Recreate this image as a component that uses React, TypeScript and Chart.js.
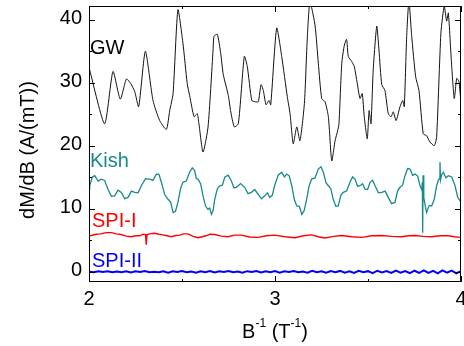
import { useEffect, useRef } from "react";
import { Chart, registerables } from "chart.js";

Chart.register(...registerables);

// ---- axis ticks ----
const xMajor = [2, 3, 4];
const xMinor = [2.5, 3.5];
const yMajor = [0, 10, 20, 30, 40];
const yMinor = [5, 15, 25, 35];
const xTitleMain = ["B", " (T", ")"];
const xTitleSup = ["-1", "-1"];
const yTitle = "dM/dB (A/(mT))";

// ---- series labels ----
const seriesNames = ["GW", "Kish", "SPI-I", "SPI-II"];

// ---- GW ----
const gwB = [2.0, 2.004, 2.084, 2.129, 2.168, 2.201, 2.224, 2.246, 2.267, 2.303, 2.344, 2.38, 2.416, 2.434, 2.452, 2.478, 2.505, 2.528, 2.541, 2.565, 2.582, 2.591, 2.613, 2.64, 2.667, 2.672, 2.69, 2.708, 2.722, 2.749, 2.761, 2.781, 2.803, 2.835, 2.851, 2.875, 2.892, 2.91, 2.925, 2.937, 2.952, 2.968, 2.977, 3.009, 3.036, 3.066, 3.081, 3.098, 3.117, 3.134, 3.158, 3.174, 3.188, 3.215, 3.233, 3.251, 3.269, 3.287, 3.305, 3.323, 3.337, 3.344, 3.359, 3.373, 3.385, 3.394, 3.412, 3.426, 3.439, 3.457, 3.469, 3.48, 3.496, 3.506, 3.516, 3.528, 3.547, 3.559, 3.574, 3.591, 3.609, 3.624, 3.636, 3.651, 3.672, 3.687, 3.695, 3.708, 3.72, 3.735, 3.756, 3.774, 3.797, 3.815, 3.833, 3.856, 3.869, 3.892, 3.91, 3.923, 3.932, 3.95, 3.964, 3.977, 3.989, 4.0];
const gwV = [32.6, 32.0, 23.5, 31.8, 27.4, 30.6, 29.9, 28.6, 26.2, 35.0, 27.2, 24.0, 22.6, 25.6, 28.3, 41.6, 36.3, 29.9, 28.0, 24.6, 25.1, 23.5, 19.0, 23.0, 35.2, 37.4, 37.7, 34.7, 31.3, 28.0, 25.6, 23.0, 23.5, 34.2, 32.6, 27.2, 27.0, 27.0, 29.7, 28.8, 26.5, 27.2, 26.5, 38.7, 34.2, 27.8, 25.1, 20.3, 23.0, 20.8, 26.7, 37.4, 42.8, 39.2, 33.1, 27.5, 27.0, 24.6, 17.6, 20.8, 22.4, 23.5, 33.1, 36.0, 36.9, 34.2, 33.4, 32.6, 30.5, 27.5, 28.3, 24.6, 21.1, 25.6, 23.5, 32.0, 39.0, 35.2, 29.7, 28.8, 25.1, 24.6, 25.4, 24.0, 26.2, 27.2, 26.2, 37.4, 43.0, 37.4, 31.0, 28.8, 21.9, 21.6, 20.6, 20.0, 21.4, 37.9, 42.2, 39.8, 41.1, 32.6, 27.5, 30.7, 30.2, 26.7];

// ---- Kish ----
const kishB = [2.0, 2.004, 2.018, 2.031, 2.049, 2.066, 2.084, 2.102, 2.12, 2.138, 2.156, 2.174, 2.192, 2.21, 2.228, 2.246, 2.264, 2.281, 2.304, 2.326, 2.344, 2.362, 2.376, 2.389, 2.407, 2.425, 2.439, 2.452, 2.465, 2.478, 2.492, 2.505, 2.523, 2.541, 2.555, 2.568, 2.577, 2.586, 2.6, 2.613, 2.627, 2.64, 2.649, 2.658, 2.667, 2.676, 2.69, 2.703, 2.717, 2.73, 2.748, 2.765, 2.779, 2.792, 2.815, 2.837, 2.855, 2.873, 2.891, 2.909, 2.927, 2.945, 2.959, 2.972, 2.985, 2.998, 3.017, 3.036, 3.05, 3.063, 3.077, 3.09, 3.104, 3.117, 3.131, 3.144, 3.157, 3.17, 3.184, 3.197, 3.215, 3.233, 3.247, 3.26, 3.274, 3.287, 3.3, 3.313, 3.327, 3.34, 3.354, 3.367, 3.385, 3.403, 3.417, 3.43, 3.444, 3.457, 3.471, 3.484, 3.498, 3.511, 3.525, 3.538, 3.556, 3.574, 3.592, 3.609, 3.627, 3.645, 3.659, 3.672, 3.686, 3.699, 3.713, 3.726, 3.74, 3.753, 3.767, 3.78, 3.789, 3.792, 3.794, 3.796, 3.8, 3.808, 3.815, 3.829, 3.842, 3.856, 3.869, 3.878, 3.884, 3.887, 3.89, 3.896, 3.905, 3.919, 3.932, 3.95, 3.968, 3.982, 3.995, 4.0];
const kishV = [13.2, 13.65, 15.05, 15.25, 14.38, 14.7, 14.5, 13.1, 11.98, 12.05, 12.93, 12.6, 11.6, 11.8, 12.8, 12.6, 12.53, 13.65, 14.78, 14.7, 14.5, 15.5, 15.45, 14.2, 12.25, 11.5, 11.05, 9.4, 9.6, 11.0, 13.2, 14.2, 14.4, 15.8, 16.5, 16.05, 14.8, 14.7, 13.98, 12.05, 10.38, 9.9, 10.1, 9.1, 9.7, 11.5, 13.18, 13.65, 13.73, 15.0, 15.33, 14.45, 13.33, 13.4, 14.0, 13.4, 12.4, 12.6, 13.05, 12.3, 11.58, 12.05, 12.53, 11.8, 12.13, 13.65, 15.33, 15.8, 15.05, 15.5, 15.18, 13.65, 11.45, 10.45, 10.38, 9.1, 9.7, 11.5, 13.7, 14.7, 14.9, 16.3, 16.65, 15.8, 14.13, 13.65, 13.18, 11.5, 10.38, 10.45, 12.13, 12.6, 12.8, 14.2, 15.05, 14.7, 13.58, 13.65, 13.98, 13.1, 13.05, 14.2, 14.53, 13.65, 12.53, 12.6, 12.8, 11.8, 10.8, 11.0, 12.8, 13.4, 13.73, 15.25, 16.38, 16.3, 15.3, 15.5, 15.18, 13.65, 13.0, 14.2, 6.2, 15.3, 11.8, 10.4, 9.4, 10.53, 10.45, 11.45, 13.65, 14.5, 14.8, 17.4, 14.6, 15.4, 15.8, 14.93, 15.25, 15.05, 13.65, 11.85, 11.25, 11.5];

// ---- SPI-I ----
const spi1B = [2.0, 2.012, 2.038, 2.065, 2.092, 2.12, 2.146, 2.172, 2.2, 2.227, 2.25, 2.274, 2.29, 2.304, 2.308, 2.312, 2.333, 2.353, 2.376, 2.398, 2.42, 2.442, 2.466, 2.489, 2.51, 2.532, 2.56, 2.586, 2.608, 2.629, 2.652, 2.676, 2.712, 2.747, 2.783, 2.819, 2.864, 2.909, 2.954, 2.998, 3.053, 3.108, 3.152, 3.197, 3.233, 3.269, 3.314, 3.359, 3.412, 3.466, 3.52, 3.574, 3.628, 3.681, 3.717, 3.753, 3.797, 3.842, 3.887, 3.932, 3.964, 3.995, 4.0];
const spi1V = [5.7, 5.75, 5.95, 6.0, 6.2, 6.2, 6.0, 5.9, 5.65, 5.55, 5.7, 5.7, 5.95, 5.9, 4.3, 5.9, 6.05, 6.1, 5.95, 5.85, 5.7, 5.55, 5.75, 5.8, 6.0, 6.0, 5.6, 5.4, 5.55, 5.7, 5.95, 5.9, 5.65, 5.55, 5.8, 5.8, 5.5, 5.45, 5.7, 5.8, 5.55, 5.4, 5.7, 5.85, 5.55, 5.35, 5.6, 5.75, 5.55, 5.45, 5.7, 5.75, 5.6, 5.55, 5.7, 5.75, 5.6, 5.55, 5.7, 5.7, 5.55, 5.45, 5.5];

// ---- SPI-II ----
const spi2B = [2.0, 2.025, 2.05, 2.075, 2.1, 2.125, 2.15, 2.175, 2.2, 2.225, 2.25, 2.275, 2.3, 2.325, 2.35, 2.375, 2.4, 2.425, 2.45, 2.475, 2.5, 2.525, 2.55, 2.575, 2.6, 2.625, 2.65, 2.675, 2.7, 2.725, 2.75, 2.775, 2.8, 2.825, 2.85, 2.875, 2.9, 2.925, 2.95, 2.975, 3.0, 3.025, 3.05, 3.075, 3.1, 3.125, 3.15, 3.175, 3.2, 3.225, 3.25, 3.275, 3.3, 3.325, 3.35, 3.375, 3.4, 3.425, 3.45, 3.475, 3.5, 3.525, 3.55, 3.575, 3.6, 3.625, 3.65, 3.675, 3.7, 3.725, 3.75, 3.775, 3.8, 3.825, 3.85, 3.875, 3.9, 3.925, 3.95, 3.975, 4.0];
const spi2V = [0.0, -0.08, 0.05, -0.05, 0.08, -0.1, 0.03, -0.08, 0.05, -0.12, 0.05, -0.05, 0.1, -0.1, 0.0, -0.08, 0.08, -0.15, 0.05, -0.05, 0.1, -0.1, 0.03, -0.15, 0.08, -0.08, 0.1, -0.12, 0.05, -0.05, 0.12, -0.1, 0.03, -0.18, 0.08, -0.05, 0.1, -0.12, 0.05, -0.08, 0.1, -0.15, 0.05, -0.05, 0.12, -0.1, 0.03, -0.15, 0.15, -0.1, 0.05, -0.18, 0.1, -0.08, 0.12, -0.15, 0.05, -0.2, 0.15, -0.1, 0.08, -0.22, 0.15, -0.12, 0.1, -0.2, 0.18, -0.15, 0.1, -0.25, 0.15, -0.18, 0.22, -0.2, 0.12, -0.28, 0.2, -0.15, 0.18, -0.25, 0.1];

const TEAL = "#178a8a";
const FONT = "Arial, 'Liberation Sans', sans-serif";

function pts(xs: number[], ys: number[]) {
  return xs.map((x, i) => ({ x, y: ys[i] }));
}

const framePlugin = {
  id: "frameDecor",
  afterDraw(chart: any) {
    const ctx = chart.ctx as CanvasRenderingContext2D;
    const { left, right, top, bottom } = chart.chartArea;
    const xs = chart.scales.x;
    const ys = chart.scales.y;
    ctx.save();
    ctx.strokeStyle = "#000";
    ctx.lineWidth = 1;
    ctx.strokeRect(Math.round(left) + 0.5, Math.round(top) + 0.5, Math.round(right - left) - 1, Math.round(bottom - top) - 1);
    ctx.beginPath();
    const tick = (len: number, vals: number[], horiz: boolean) => {
      vals.forEach((v) => {
        if (horiz) {
          const px = Math.round(xs.getPixelForValue(v)) + 0.5;
          ctx.moveTo(px, bottom);
          ctx.lineTo(px, bottom - len);
          ctx.moveTo(px, top);
          ctx.lineTo(px, top + len);
        } else {
          const py = Math.round(ys.getPixelForValue(v)) + 0.5;
          ctx.moveTo(left, py);
          ctx.lineTo(left + len, py);
          ctx.moveTo(right, py);
          ctx.lineTo(right - len, py);
        }
      });
    };
    tick(6, xMajor, true);
    tick(3, xMinor, true);
    tick(6, yMajor, false);
    tick(3, yMinor, false);
    ctx.stroke();

    // tick labels
    ctx.fillStyle = "#000";
    ctx.font = `20px ${FONT}`;
    ctx.textAlign = "right";
    ctx.textBaseline = "middle";
    yMajor.forEach((v) => {
      ctx.fillText(String(v), left - 7, ys.getPixelForValue(v) - 1);
    });
    ctx.textAlign = "center";
    ctx.textBaseline = "alphabetic";
    xMajor.forEach((v) => {
      ctx.fillText(String(v), xs.getPixelForValue(v), bottom + 23);
    });

    // y title
    ctx.save();
    ctx.translate(34, (top + bottom) / 2 + 6);
    ctx.rotate(-Math.PI / 2);
    ctx.textAlign = "center";
    ctx.textBaseline = "alphabetic";
    ctx.fillText(yTitle, 0, 0);
    ctx.restore();

    // x title with superscripts
    const mainFont = `20px ${FONT}`;
    const supFont = `12px ${FONT}`;
    const parts: [string, boolean][] = [
      [xTitleMain[0], false],
      [xTitleSup[0], true],
      [xTitleMain[1], false],
      [xTitleSup[1], true],
      [xTitleMain[2], false],
    ];
    let total = 0;
    parts.forEach(([t, sup]) => {
      ctx.font = sup ? supFont : mainFont;
      total += ctx.measureText(t).width;
    });
    let cx = (left + right) / 2 - total / 2;
    const base = bottom + 56;
    ctx.textAlign = "left";
    parts.forEach(([t, sup]) => {
      ctx.font = sup ? supFont : mainFont;
      ctx.fillText(t, cx, sup ? base - 11 : base);
      cx += ctx.measureText(t).width;
    });

    // series labels
    ctx.font = mainFont;
    ctx.textAlign = "left";
    const labelColors = ["#000", TEAL, "#ff0000", "#0000ff"];
    const labelX = [90, 90, 92, 92];
    const labelBase = [54, 167, 227, 267];
    seriesNames.forEach((n, i) => {
      ctx.fillStyle = labelColors[i];
      ctx.fillText(n, labelX[i], labelBase[i]);
    });
    ctx.restore();
  },
};

export default function App() {
  const ref = useRef<HTMLCanvasElement | null>(null);
  useEffect(() => {
    if (!ref.current) return;
    const chart = new Chart(ref.current, {
      type: "line",
      data: {
        datasets: [
          { label: seriesNames[3], data: pts(spi2B, spi2V), borderColor: "#0000ff", borderWidth: 2, pointRadius: 0, tension: 0 },
          { label: seriesNames[2], data: pts(spi1B, spi1V), borderColor: "#ff0000", borderWidth: 1.4, pointRadius: 0, tension: 0 },
          { label: seriesNames[1], data: pts(kishB, kishV), borderColor: TEAL, borderWidth: 1.3, pointRadius: 0, tension: 0 },
          { label: seriesNames[0], data: pts(gwB, gwV), borderColor: "#111", borderWidth: 1, pointRadius: 0, tension: 0.2 },
        ],
      },
      options: {
        responsive: false,
        animation: false,
        layout: { padding: { left: 0, right: 3, top: 6, bottom: 0 } },
        plugins: { legend: { display: false }, tooltip: { enabled: false } },
        scales: {
          x: {
            type: "linear",
            min: 2,
            max: 4,
            grid: { display: false, drawTicks: false },
            border: { display: false },
            ticks: { display: false },
            afterFit: (s: any) => {
              s.height = 64;
              s.paddingLeft = 0;
              s.paddingRight = 0;
            },
          },
          y: {
            type: "linear",
            min: -1.64,
            max: 42.2,
            grid: { display: false, drawTicks: false },
            border: { display: false },
            ticks: { display: false },
            afterFit: (s: any) => {
              s.width = 89;
            },
          },
        },
      },
      plugins: [framePlugin],
    } as any);
    return () => chart.destroy();
  }, []);
  return (
    <div style={{ position: "absolute", left: 0, top: 0, width: 464, height: 346, background: "#fff" }}>
      <canvas ref={ref} width={464} height={346} />
    </div>
  );
}
